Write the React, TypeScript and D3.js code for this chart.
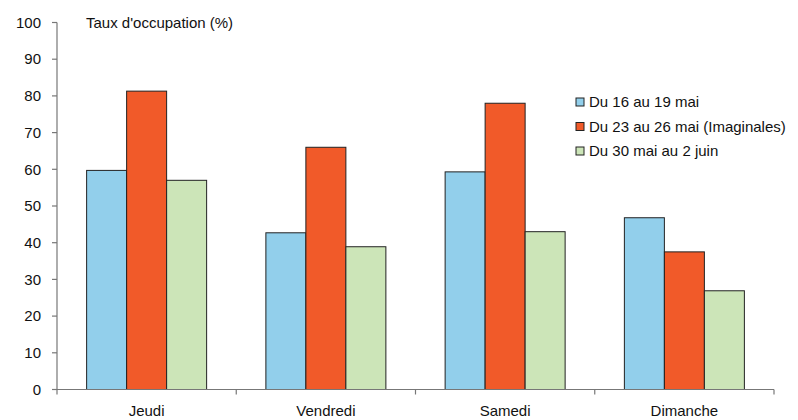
import React from "react";
import * as d3 from "d3";

const categories = ["Jeudi", "Vendredi", "Samedi", "Dimanche"];
const seriesNames = ["Du 16 au 19 mai", "Du 23 au 26 mai (Imaginales)", "Du 30 mai au 2 juin"];
const serie1 = [59.7, 42.7, 59.3, 46.8];
const serie2 = [81.3, 66.0, 78.0, 37.5];
const serie3 = [57.0, 38.9, 43.0, 26.9];
const yTicks = [0, 10, 20, 30, 40, 50, 60, 70, 80, 90, 100];
const colors = ["#92CFEB", "#F15A29", "#CCE5B8"];

export default function App() {
  const W = 798, H = 420;
  const x0 = 57, x1 = 774, yBottom = 389.5, yTop = 22.5;
  const x = d3.scaleBand<string>().domain(categories).range([x0, x1]).paddingInner(0).paddingOuter(0);
  const bw = 40;
  const y = d3.scaleLinear().domain([0, 100]).range([yBottom, yTop]);
  const series = [serie1, serie2, serie3];
  const font = "'Liberation Sans', Arial, sans-serif";
  const fs = 15;
  return (
    <svg width={W} height={H} style={{ position: "absolute", left: 0, top: 0 }} fontFamily={font}>
      <rect width={W} height={H} fill="#fff" />
      {series.map((vals, si) =>
        vals.map((v, ci) => {
          const cx = (x(categories[ci]) as number) + x.bandwidth() / 2;
          const left = cx - (bw * 3) / 2 + si * bw;
          return (
            <rect key={`${si}-${ci}`} x={left} y={y(v)} width={bw} height={yBottom - y(v)}
              fill={colors[si]} stroke="#222" strokeWidth={1} />
          );
        })
      )}
      <line x1={x0} x2={x0} y1={yTop} y2={yBottom} stroke="#777" strokeWidth={1.2} />
      {yTicks.map((t) => (
        <g key={t}>
          <line x1={x0 - 5} x2={x0} y1={y(t)} y2={y(t)} stroke="#777" strokeWidth={1.2} />
          <text x={x0 - 16} y={y(t)} dy="0.35em" textAnchor="end" fontSize={fs} fill="#111">{t}</text>
        </g>
      ))}
      <line x1={x0 - 5} x2={x1} y1={yBottom} y2={yBottom} stroke="#777" strokeWidth={1.2} />
      {[...categories.map((c) => x(c) as number), x1].map((p, i) => (
        <line key={i} x1={p} x2={p} y1={yBottom} y2={yBottom + 5} stroke="#777" strokeWidth={1.2} />
      ))}
      {categories.map((c) => (
        <text key={c} x={(x(c) as number) + x.bandwidth() / 2} y={416} textAnchor="middle" fontSize={fs} fill="#111">{c}</text>
      ))}
      <text x={86} y={27.5} fontSize={fs} fill="#111">Taux d'occupation (%)</text>
      {seriesNames.map((n, i) => (
        <g key={n} transform={`translate(576, ${98 + i * 24.5})`}>
          <rect x={0} y={0} width={8} height={8} fill={colors[i]} stroke="#222" strokeWidth={1} />
          <text x={13} y={9} fontSize={fs} fill="#111">{n}</text>
        </g>
      ))}
    </svg>
  );
}
